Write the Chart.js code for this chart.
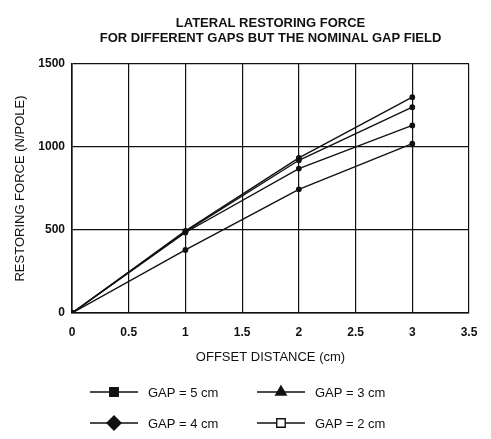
<!DOCTYPE html>
<html>
<head>
<meta charset="utf-8">
<script src="https://cdn.jsdelivr.net/npm/chart.js@4/dist/chart.umd.min.js"></script>
<style>
  html, body { margin: 0; padding: 0; background: #fff; }
  #wrap { width: 491px; height: 439px; position: relative; }
</style>
</head>
<body>
<div id="wrap"><canvas id="forceChart"></canvas></div>
<script>
// offset distance (cm) at which the force was computed
const offsets = [0, 1, 2, 3];

// restoring force (N/pole) for each gap
const gap5 = [0, 380, 745, 1020];
const gap3 = [0, 490, 920, 1240];
const gap4 = [0, 485, 870, 1130];
const gap2 = [0, 495, 935, 1300];

const xTicks = ['0', '0.5', '1', '1.5', '2', '2.5', '3', '3.5'];
const yTicks = ['0', '500', '1000', '1500'];

const titleLines = ['LATERAL RESTORING FORCE', 'FOR DIFFERENT GAPS BUT THE NOMINAL GAP FIELD'];

const FONT = '"Liberation Sans", Arial, sans-serif';
const INK = '#111';

function toPoints(values) {
  return offsets.map((x, i) => ({ x: x, y: values[i] }));
}

function series(label, values, marker, hollow) {
  return {
    label: label,
    data: toPoints(values),
    borderColor: INK,
    borderWidth: 1.4,
    pointRadius: 2.2,
    pointStyle: 'circle',
    pointBackgroundColor: INK,
    pointBorderColor: INK,
    legendMarker: marker,
    legendHollow: hollow,
    tension: 0
  };
}

// title above the plot and the 2x2 legend below it
const decorPlugin = {
  id: 'decor',
  afterDraw(chart) {
    const ctx = chart.ctx;
    const area = chart.chartArea;
    const cx = (area.left + area.right) / 2;
    ctx.save();
    ctx.fillStyle = INK;
    ctx.textAlign = 'center';
    ctx.textBaseline = 'middle';
    ctx.font = 'bold 13px ' + FONT;
    ctx.fillText(titleLines[0], cx, 23);
    ctx.fillText(titleLines[1], cx, 38);

    const cols = [90, 257];
    const rows = [392, 423];
    ctx.font = '13px ' + FONT;
    ctx.textAlign = 'left';
    chart.data.datasets.forEach((ds, i) => {
      const x = cols[i % 2];
      const y = rows[Math.floor(i / 2)];
      ctx.strokeStyle = INK;
      ctx.lineWidth = 1.6;
      ctx.beginPath();
      ctx.moveTo(x, y);
      ctx.lineTo(x + 48, y);
      ctx.stroke();
      ctx.fillStyle = ds.legendHollow ? '#fff' : INK;
      ctx.lineWidth = 1.4;
      Chart.helpers.drawPoint(ctx, {
        pointStyle: ds.legendMarker,
        radius: ds.legendMarker === 'rectRot' ? 7 : 6,
        rotation: 0,
        borderWidth: 1.4
      }, x + 24, y);
      ctx.fillStyle = INK;
      ctx.fillText(ds.label, x + 58, y + 1);
    });
    ctx.restore();
  }
};

new Chart(document.getElementById('forceChart'), {
  type: 'line',
  data: {
    datasets: [
      series('GAP = 5 cm', gap5, 'rect', false),
      series('GAP = 3 cm', gap3, 'triangle', false),
      series('GAP = 4 cm', gap4, 'rectRot', false),
      series('GAP = 2 cm', gap2, 'rect', true)
    ]
  },
  options: {
    responsive: true,
    maintainAspectRatio: false,
    animation: false,
    layout: { padding: { left: 0, top: 64, right: 22, bottom: 76 } },
    plugins: {
      legend: { display: false },
      title: { display: false },
      tooltip: { enabled: false }
    },
    scales: {
      x: {
        type: 'linear',
        min: 0,
        max: 3.5,
        ticks: {
          stepSize: 0.5,
          padding: 12,
          color: INK,
          font: { family: FONT, size: 12, weight: 'bold' },
          callback: (v) => xTicks[Math.round(v * 2)]
        },
        grid: { color: INK, lineWidth: 1.2, drawTicks: false },
        border: { color: INK, width: 1.6 },
        title: {
          display: true,
          text: 'OFFSET DISTANCE (cm)',
          color: INK,
          font: { family: FONT, size: 13 },
          padding: { top: 0, bottom: -2 }
        },
        afterFit: (s) => { s.height = 50; }
      },
      y: {
        min: 0,
        max: 1500,
        ticks: {
          stepSize: 500,
          padding: 7,
          color: INK,
          font: { family: FONT, size: 12, weight: 'bold' },
          callback: (v) => yTicks[Math.round(v / 500)]
        },
        grid: { color: INK, lineWidth: 1.2, drawTicks: false },
        border: { color: INK, width: 1.6 },
        title: {
          display: true,
          text: 'RESTORING FORCE (N/POLE)',
          color: INK,
          font: { family: FONT, size: 13 },
          padding: { top: 13, bottom: 0 }
        },
        afterFit: (s) => { s.width = 72; }
      }
    }
  },
  plugins: [decorPlugin]
});
</script>
</body>
</html>
